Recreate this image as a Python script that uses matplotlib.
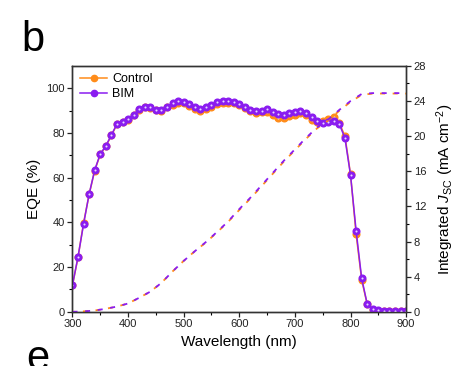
import numpy as np
import matplotlib
matplotlib.use('Agg')
import matplotlib.pyplot as plt
from matplotlib.lines import Line2D

plt.rcParams['font.family'] = ['Liberation Sans', 'DejaVu Sans']
plt.rcParams['mathtext.fontset'] = 'custom'
plt.rcParams['mathtext.rm'] = 'Liberation Sans'
plt.rcParams['mathtext.it'] = 'Liberation Sans:italic'

# EQE spectra, 300-900 nm every 10 nm
wavelength = list(range(300, 901, 10))
eqe_bim = [12.0, 24.6, 39.3, 52.7, 63.4, 70.6, 74.2, 79.1, 84.0, 85.1,
           86.3, 88.2, 90.7, 91.8, 91.5, 90.4, 90.3, 91.8, 93.3, 94.2,
           94.0, 92.8, 91.5, 90.7, 91.5, 92.5, 93.7, 94.3, 94.3, 94.0,
           93.0, 91.5, 90.3, 89.8, 90.0, 90.6, 89.5, 88.5, 87.9, 88.8,
           89.4, 89.8, 89.1, 87.0, 85.4, 84.6, 85.1, 85.5, 83.9, 77.6,
           61.1, 36.3, 15.0, 3.5, 1.1, 0.6, 0.5, 0.4, 0.3, 0.3, 0.2]
eqe_control = [11.8, 24.4, 39.8, 52.5, 63.2, 70.4, 74.0, 78.9, 83.8, 84.9,
               86.0, 88.0, 90.4, 91.5, 91.2, 90.1, 90.0, 91.4, 92.7, 93.5,
               93.3, 92.0, 90.8, 90.0, 90.8, 91.8, 93.0, 93.5, 93.5, 93.3,
               92.5, 91.0, 89.8, 89.0, 89.3, 89.2, 88.0, 86.8, 86.5, 87.5,
               88.2, 88.8, 88.0, 86.0, 84.8, 85.5, 86.3, 87.0, 84.5, 78.5,
               61.5, 34.8, 14.3, 3.3, 1.0, 0.5, 0.4, 0.3, 0.3, 0.2, 0.2]

# integrated Jsc (mA cm-2), read every 20 nm
jsc_wavelength = [300, 320, 340, 360, 380, 400, 420, 440, 460, 480, 500,
                  520, 540, 560, 580, 600, 620, 640, 660, 680, 700, 720,
                  740, 760, 780, 800, 820, 840, 860, 880, 900]
jsc_bim = [0.0, 0.05, 0.15, 0.35, 0.6, 0.95, 1.6, 2.3, 3.3, 4.6, 5.8,
           6.9, 7.95, 9.1, 10.3, 11.7, 13.0, 14.4, 15.8, 17.2, 18.5, 19.8,
           21.0, 21.9, 23.0, 24.0, 24.8, 24.9, 24.9, 24.9, 24.9]
jsc_control = [0.0, 0.05, 0.15, 0.35, 0.6, 0.95, 1.6, 2.3, 3.3, 4.6, 5.8,
               6.9, 7.9, 9.05, 10.25, 11.6, 12.9, 14.3, 15.7, 17.1, 18.4, 19.7,
               20.9, 21.8, 22.9, 23.9, 24.7, 24.85, 24.85, 24.85, 24.85]

orange = '#FF8C1A'
purple = '#8A1CF0'

fig = plt.figure(figsize=(4.69, 3.66), dpi=100)
ax = fig.add_axes([0.1545, 0.148, 0.7115, 0.672])
ax2 = ax.twinx()

# EQE curves with "sphere" style markers
ax.plot(wavelength, eqe_control, color=orange, lw=1.1, marker='o', ms=4.8,
        mfc=orange, mec=orange, zorder=3)
ax.plot(wavelength, eqe_control, ls='none', marker='o', ms=1.5,
        mfc='#FFE2C0', mec='none', zorder=3)
ax.plot(wavelength, eqe_bim, color=purple, lw=1.1, marker='o', ms=4.8,
        mfc=purple, mec=purple, zorder=4)
ax.plot(wavelength, eqe_bim, ls='none', marker='o', ms=1.5,
        mfc='#E8D8FF', mec='none', zorder=4)

# integrated current, dashed; orange peeks out behind purple dashes
ax2.plot(jsc_wavelength, jsc_control, color=orange, lw=1.3, ls=(1.2, (2.8, 4.2)))
ax2.plot(jsc_wavelength, jsc_bim, color=purple, lw=1.3, ls=(0, (2.8, 4.2)))

ax.set_xlim(300, 900)
ax.set_ylim(0, 110)
ax2.set_ylim(0, 28)
ax.set_xticks(range(300, 901, 100))
ax.set_xticks(range(350, 900, 100), minor=True)
ax.set_yticks(range(0, 101, 20))
ax.set_yticks(range(10, 110, 20), minor=True)
ax2.set_yticks(range(0, 29, 4))
ax2.set_yticks(range(2, 28, 4), minor=True)

for a in (ax, ax2):
    a.tick_params(which='major', direction='out', length=3.5, width=0.9,
                  labelsize=8, pad=2, colors='#222222')
    a.tick_params(which='minor', direction='out', length=2, width=0.8)
    for s in a.spines.values():
        s.set_linewidth(1.0)
        s.set_color('#333333')

ax.set_xlabel('Wavelength (nm)', fontsize=11, labelpad=4)
ax.set_ylabel('EQE (%)', fontsize=11, labelpad=4)
ax2.set_ylabel(r'Integrated $J_{\mathrm{SC}}$ (mA cm$^{-2}$)', fontsize=11,
               labelpad=6)

handles = [Line2D([0], [0], color=orange, lw=1.1, marker='o', ms=4.5, mfc=orange,
                  mec=orange),
           Line2D([0], [0], color=purple, lw=1.1, marker='o', ms=4.5, mfc=purple,
                  mec=purple)]
ax.legend(handles, ['Control', 'BIM'], loc='upper left', frameon=False,
          fontsize=9, handlelength=2.2, handletextpad=0.4, labelspacing=0.2,
          borderaxespad=0.2, bbox_to_anchor=(0.0, 1.0))

fig.text(0.045, 0.835, 'b', fontsize=30, ha='left', va='bottom')
fig.text(0.055, 0.075, 'e', fontsize=30, ha='left', va='top')

fig.savefig('out.png', dpi=100)
